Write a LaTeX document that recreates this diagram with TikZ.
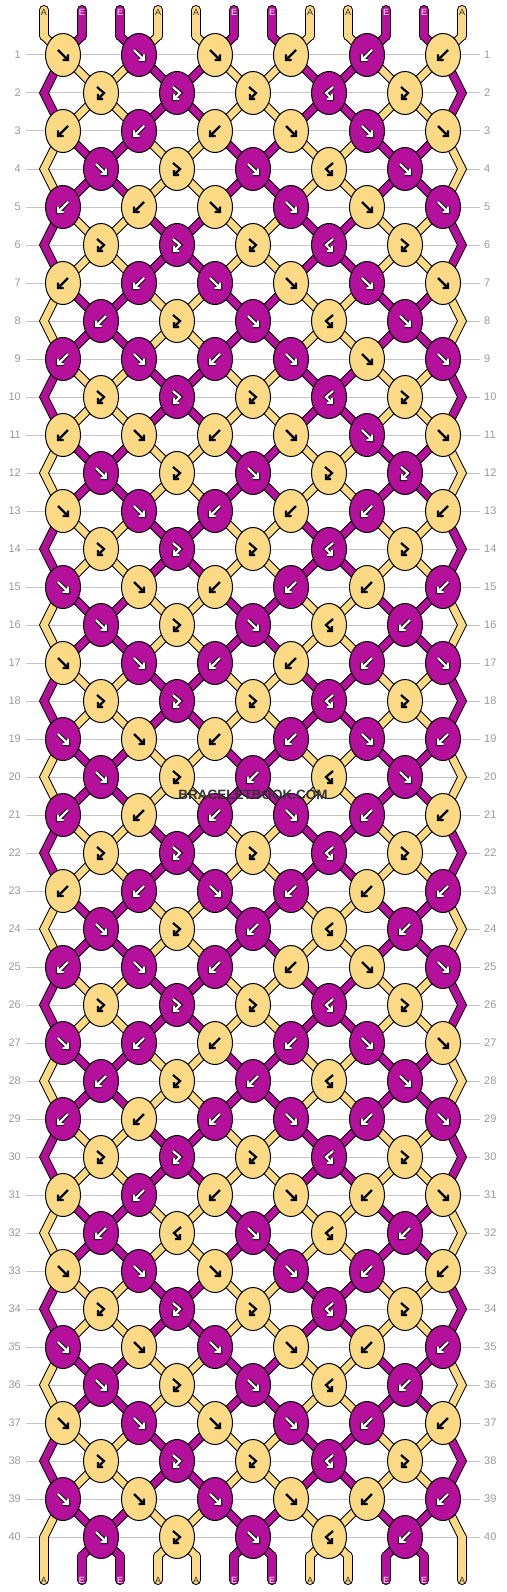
\documentclass[tikz,border=0pt]{standalone}
\usepackage{fontspec}
\setmainfont{Liberation Sans}
\usetikzlibrary{shapes.geometric}
\definecolor{yel}{HTML}{FBD985}
\definecolor{mag}{HTML}{B4109B}
\definecolor{gridg}{HTML}{C4C4C4}
\definecolor{labg}{HTML}{999999}
\definecolor{wmark}{HTML}{333333}
\tikzset{
 knotbase/.style={ellipse, draw=black, line width=1pt, minimum width=35pt, minimum height=43pt, inner sep=0pt},
 arrowblack/.style={draw=black, line width=2.2pt},
 arrowoutline/.style={draw=black, line width=4.2pt},
 arrowwhite/.style={draw=white, line width=2.2pt},
 strandout/.style={draw=black, line width=9pt, line cap=round, line join=miter},
 strandfill/.style={line width=7pt, line cap=round, line join=miter},
 endout/.style={draw=black, line width=10pt, line cap=round, line join=miter},
 endfill/.style={line width=8pt, line cap=round, line join=miter},
 gridline/.style={draw=gridg, line width=1pt},
 rowlab/.style={text=labg, font=\fontsize{11pt}{13pt}\selectfont, inner sep=0pt},
 endlab/.style={font=\fontsize{9pt}{10pt}\selectfont, inner sep=0pt},
}
\def\drawglyph#1#2{%
 \if#1f\draw[#2] (-5,-5) -- (5,5) (5,-0.5) -- (5,5) -- (-0.5,5);\fi
 \if#1b\draw[#2] (5,-5) -- (-5,5) (-5,-0.5) -- (-5,5) -- (0.5,5);\fi
 \if#1g\draw[#2] (-4,-6) -- (3,0) -- (-3,6) (-3,1) -- (-3,6) -- (2,6);\fi
 \if#1h\draw[#2] (4,-6) -- (-3,0) -- (3,6) (3,1) -- (3,6) -- (-2,6);\fi
}
\def\mkknot#1#2\relax{%
 \if#1y\def\kfill{yel}\else\def\kfill{mag}\fi
 \node[knotbase, fill=\kfill] (k-\r-\j) at (c-\r-\j) {};
 \begin{scope}[shift={(c-\r-\j)}]
  \if#1y\drawglyph{#2}{arrowblack}\else\drawglyph{#2}{arrowoutline}\drawglyph{#2}{arrowwhite}\fi
 \end{scope}
}
\def\drawstrand#1#2{%
 \ifnum\kk<20
  \draw[#1] (c-\ra-\ja) -- (\midpt) -- (c-\rc-\ja);
 \else
  \ifnum\p=0
   \draw[#1] (c-\ra-\ja) -- (\midpt);
   \draw[#2] (\midpt) -- (b-\p);
  \else\ifnum\p=11
   \draw[#1] (c-\ra-\ja) -- (\midpt);
   \draw[#2] (\midpt) -- (b-\p);
  \else
   \draw[#1] (c-\ra-\ja) -- (\midpt) -- (bb-\p);
   \draw[#2] (bb-\p) -- (b-\p);
  \fi\fi
 \fi}
\def\allstrands#1#2{%
 \foreach \p in {0,...,11}{
  \pgfmathtruncatemacro\ja{div(\p,2)}
  \pgfmathtruncatemacro\cm{mod(\p,4)}
  \ifnum\cm=1 \def\sc{mag}\else\ifnum\cm=2 \def\sc{mag}\else\def\sc{yel}\fi\fi
  \draw[#2] (t-\p) -- (tb-\p);
  \draw[#1] (tb-\p) -- (c-1-\ja);
 }
 \foreach \kk in {1,...,20}{
  \pgfmathtruncatemacro\ra{2*\kk-1}
  \pgfmathtruncatemacro\rb{2*\kk}
  \pgfmathtruncatemacro\rc{2*\kk+1}
  \pgfmathtruncatemacro\sh{mod(\kk,2)*2}
  \foreach \p in {0,...,11}{
    \pgfmathtruncatemacro\ja{div(\p,2)}
    \pgfmathtruncatemacro\jb{div(\p+1,2)-1}
    \pgfmathtruncatemacro\cm{mod(\p+\sh,4)}
    \ifnum\cm=1 \def\sc{mag}\else\ifnum\cm=2 \def\sc{mag}\else\def\sc{yel}\fi\fi
    \ifnum\p=0 \def\midpt{e-\rb-L}\else\ifnum\p=11 \def\midpt{e-\rb-R}\else\def\midpt{c-\rb-\jb}\fi\fi
    \drawstrand{#1}{#2}
  }
 }}
\begin{document}
\begin{tikzpicture}[x=1pt,y=-1pt]
\useasboundingbox (0,0) rectangle (506,1592);
% knot centres, row labels, grid lines
\foreach \r in {1,...,40}{
  \pgfmathtruncatemacro\yy{55+38*(\r-1)}
  \ifodd\r\relax
    \foreach \j in {0,...,5}{\pgfmathtruncatemacro\xx{63+76*\j}\coordinate (c-\r-\j) at (\xx,\yy);}
  \else
    \foreach \j in {0,...,4}{\pgfmathtruncatemacro\xx{101+76*\j}\coordinate (c-\r-\j) at (\xx,\yy);}
    \coordinate (e-\r-L) at (44,\yy);
    \coordinate (e-\r-R) at (462,\yy);
  \fi
  \node[rowlab,anchor=east] (ll-\r) at (21,\yy) {\r};
  \node[rowlab,anchor=west] (rl-\r) at (484,\yy) {\r};
  \draw[gridline] ([xshift=5pt]ll-\r.east) -- ([xshift=-4pt]rl-\r.west);
}
% strand end points
\foreach \p in {0,...,11}{
  \pgfmathtruncatemacro\xp{44+38*\p}
  \coordinate (t-\p) at (\xp,10);
  \coordinate (tb-\p) at (\xp,36);
  \coordinate (bb-\p) at (\xp,1556);
  \coordinate (b-\p) at (\xp,1580);
}
% strands: outlines, then fills
\allstrands{strandout}{endout}
\allstrands{strandfill, draw=\sc}{endfill, draw=\sc}
% end labels
\foreach \p in {0,...,11}{
  \pgfmathtruncatemacro\cm{mod(\p,4)}
  \ifnum\cm=1 \def\lt{E}\def\lc{white}\else\ifnum\cm=2 \def\lt{E}\def\lc{white}\else\def\lt{A}\def\lc{wmark}\fi\fi
  \node[endlab, text=\lc, anchor=center] (tl-\p) at ([yshift=-2.5pt]t-\p) {\lt};
  \node[endlab, text=\lc, anchor=center] (bl-\p) at (b-\p) {\lt};
}
% knots
\foreach \row [count=\r] in {
{yf,mf,yf,yb,mb,yb},
{yg,mg,yg,mh,yg},
{yb,mb,yb,yf,mf,yf},
{mf,yg,mf,yh,mf},
{mb,yb,yf,mf,yf,mf},
{yg,mg,yg,mh,yg},
{yb,mb,mf,yf,mf,yf},
{mb,yg,mf,yh,mf},
{mb,mf,mb,mf,yf,mf},
{yg,mg,yg,mh,yg},
{yb,yf,yb,yf,mf,yf},
{mf,yg,mf,yg,mg},
{yf,mf,mb,yb,mb,yb},
{yg,mg,yg,mh,yg},
{mf,yf,yb,mb,yb,mb},
{mf,yg,mf,yh,mb},
{yf,mf,mb,yb,mb,mf},
{yg,mg,yg,mh,yg},
{mf,yf,yb,mb,mf,mb},
{mf,yg,mb,yh,mf},
{mb,yb,mb,mf,mb,yb},
{yg,mg,yg,mh,yg},
{yb,mb,mf,mb,yb,mb},
{mf,yg,mb,yh,mb},
{mb,mf,mb,yb,yf,mf},
{yg,mg,yg,mh,yg},
{mf,mb,yb,mb,mf,yf},
{mb,yg,mb,yh,mf},
{mb,yb,mb,mf,mb,mf},
{yg,mg,yg,mh,yg},
{yb,mb,yb,yf,yb,yf},
{mb,yh,mf,yh,mb},
{yf,mf,yf,mf,mb,yb},
{yg,mg,yg,mh,yg},
{mf,yf,mf,yf,yb,mb},
{mf,yg,mf,yh,mb},
{yf,mf,yf,mf,mb,yb},
{yg,mg,yg,mh,yg},
{mf,yf,mf,yf,yb,mb},
{mf,yg,mf,yh,mb}}{
  \foreach \kc [count=\j from 0] in \row {
    \expandafter\mkknot\kc\relax
  }
}
\node[font=\bfseries\fontsize{13.5pt}{15pt}\selectfont, text=wmark, inner sep=0pt] (wm) at (253,795) {BRACELETBOOK.COM};
\end{tikzpicture}
\end{document}
